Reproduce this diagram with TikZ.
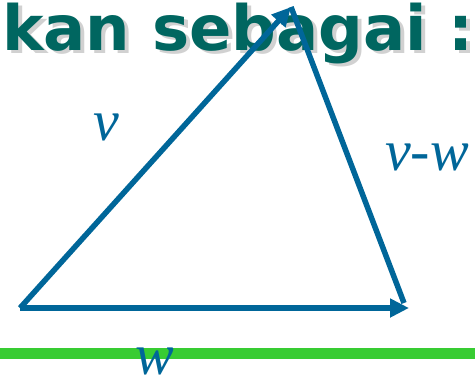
\documentclass[tikz,border=0pt]{standalone}
\usepackage{fontspec}
\setmainfont{Liberation Serif}
\newfontfamily\titlefont{DejaVu Sans}
\usetikzlibrary{arrows.meta,calc}
\definecolor{vecblue}{RGB}{0,102,153}
\definecolor{titleteal}{RGB}{0,102,96}
\definecolor{barGreen}{RGB}{56,204,51}
\tikzset{
  vec/.style={draw=vecblue, line width=5.5pt},
  vechead/.style={-{Triangle[length=19pt,width=18pt]}},
  veclabel/.style={text=vecblue, font=\fontsize{58}{60}\selectfont\itshape, inner sep=0pt},
  titletext/.style={font=\titlefont\bfseries\fontsize{62.5}{64}\selectfont, inner sep=0pt, anchor=base west}
}
\begin{document}
\begin{tikzpicture}[x=1pt,y=-1pt]
\useasboundingbox (0,0) rectangle (475,380);
% title with shadow
\node[titletext, text=black!18] (titleshadow) at (6,53) {kan sebagai :};
\node[titletext, text=titleteal] (title) at (2,50) {kan sebagai :};
% green bar
\fill[barGreen] (0,348) rectangle (475,359);
% vertices
\coordinate (A) at (20,308);
\coordinate (B) at (291,7);
\coordinate (C) at (409,308);
% vectors
\draw[vec] (B) -- ($(C)+(-5,-5)$);
\draw[vec, vechead] (A) -- (B);
\draw[vec, vechead] (A) -- (C);
% labels
\node[veclabel] (lv) at (106,127) {v};
\node[veclabel] (lvw) at (427,157) {v-w};
\node[veclabel] (lw) at (155,361) {w};
\end{tikzpicture}
\end{document}
